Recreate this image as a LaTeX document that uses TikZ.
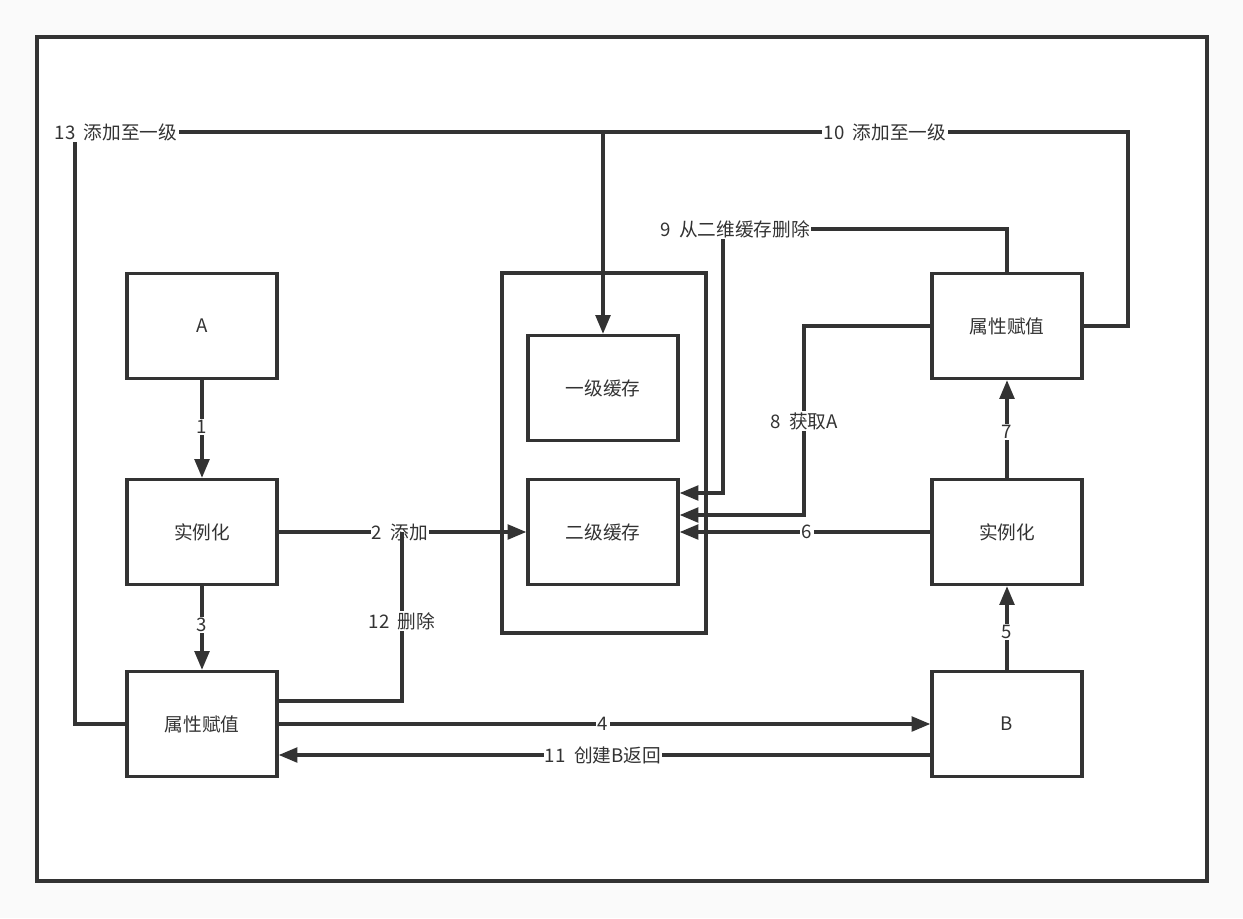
\documentclass[tikz,border=0pt]{standalone}
\usepackage{fontspec}
\setmainfont{Noto Sans CJK SC}
\usetikzlibrary{arrows.meta,calc}
\definecolor{ink}{HTML}{333333}
\definecolor{bg}{HTML}{FAFAFA}
\newcommand{\gp}{\hspace{0.45em}}
\tikzset{
  box/.style={draw=ink, line width=2.5pt, fill=white, minimum width=112.5pt, minimum height=78.75pt, inner sep=0pt, text=ink, font=\fontsize{14pt}{16pt}\selectfont},
  conn/.style={draw=ink, line width=2.4pt},
  arr/.style={conn, -{Triangle[length=14pt,width=11pt]}},
  lbl/.style={fill=white, text=ink, inner sep=1pt, font=\fontsize{14pt}{16pt}\selectfont},
}
\begin{document}
\begin{tikzpicture}[x=0.75pt, y=-0.75pt]
\useasboundingbox (0,0) rectangle (1243,918);
\fill[bg] (0,0) rectangle (1243,918);
\draw[ink, line width=2.5pt, fill=white] (37,37) rectangle (1207,881);

% container
\node[box, minimum width=153pt, minimum height=270pt] (cont) at (604,453) {};
% boxes
\node[box] (a) at (202,326) {A};
\node[box] (li) at (202,532) {实例化};
\node[box] (lp) at (202,724) {属性赋值};
\node[box] (l1) at (603,388) {一级缓存};
\node[box] (l2) at (603,532) {二级缓存};
\node[box] (pr) at (1007,326) {属性赋值};
\node[box] (ri) at (1007,532) {实例化};
\node[box] (b) at (1007,724) {B};

\coordinate (c10) at (603,132);

% 1
\draw[arr] (a.south) -- (li.north);
\node[lbl] (t1) at (202,427) {1};
% 2
\draw[arr] (li.east) -- (l2.west);
\node[lbl] (t2) at (400,532) {2\gp 添加};
% 3
\draw[arr] (li.south) -- (lp.north);
\node[lbl] (t3) at (202,625) {3};
% 4
\draw[arr] (lp.east) -- (b.west);
\node[lbl] (t4) at (603,724) {4};
% 5
\draw[arr] (b.north) -- (ri.south);
\node[lbl] (t5) at (1007,632) {5};
% 6
\draw[arr] (ri.west) -- (l2.east);
\node[lbl] (t6) at (807,532) {6};
% 7
\draw[arr] (ri.north) -- (pr.south);
\node[lbl] (t7) at (1007,432) {7};
% 8
\draw[arr] (pr.west) -- (804,326) |- ($(l2.east)+(0,-17)$);
\node[lbl] (t8) at (804,421) {8\gp 获取A};
% 9
\draw[arr] (pr.north) |- (723,229) |- ($(l2.east)+(0,-39)$);
\node[lbl] (t9) at (735,229) {9\gp 从二维缓存删除};
% 10
\draw[arr] (pr.east) -| (1128,132) -- (c10) -- (l1.north);
\node[lbl] (t10) at (885,132) {10\gp 添加至一级};
% 11
\draw[arr] ($(b.west)+(0,31)$) -- ($(lp.east)+(0,31)$);
\node[lbl] (t11) at (603,755) {11\gp 创建B返回};
% 12
\draw[conn] ($(lp.east)+(0,-23)$) -| (402,532);
\node[lbl] (t12) at (402,621) {12\gp 删除};
% 13
\draw[conn] (lp.west) -| (75,132) -- (c10);
\node[lbl] (t13) at (116,132) {13\gp 添加至一级};
\end{tikzpicture}
\end{document}
